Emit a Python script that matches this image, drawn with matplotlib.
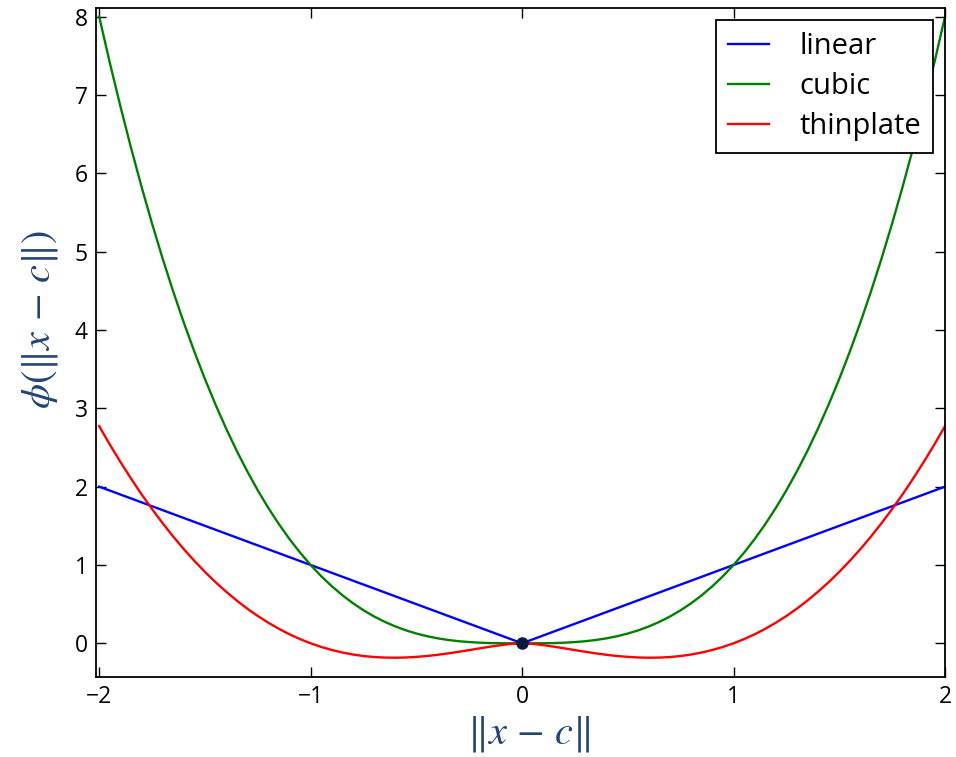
import matplotlib
matplotlib.use("Agg")
from matplotlib import pyplot as plt

# radial basis functions phi(r) (0.05 steps)
r = [-2.00, -1.95, -1.90, -1.85, -1.80, -1.75, -1.70, -1.65, -1.60, -1.55,
     -1.50, -1.45, -1.40, -1.35, -1.30, -1.25, -1.20, -1.15, -1.10, -1.05,
     -1.00, -0.95, -0.90, -0.85, -0.80, -0.75, -0.70, -0.65, -0.60, -0.55,
     -0.50, -0.45, -0.40, -0.35, -0.30, -0.25, -0.20, -0.15, -0.10, -0.05,
     0.00,
     0.05, 0.10, 0.15, 0.20, 0.25, 0.30, 0.35, 0.40, 0.45, 0.50,
     0.55, 0.60, 0.65, 0.70, 0.75, 0.80, 0.85, 0.90, 0.95, 1.00,
     1.05, 1.10, 1.15, 1.20, 1.25, 1.30, 1.35, 1.40, 1.45, 1.50,
     1.55, 1.60, 1.65, 1.70, 1.75, 1.80, 1.85, 1.90, 1.95, 2.00]

cubic = [8.0, 7.415, 6.859, 6.332, 5.832, 5.359, 4.913, 4.492, 4.096, 3.724,
         3.375, 3.049, 2.744, 2.460, 2.197, 1.953, 1.728, 1.521, 1.331, 1.158,
         1.0, 0.857, 0.729, 0.614, 0.512, 0.422, 0.343, 0.275, 0.216, 0.166,
         0.125, 0.091, 0.064, 0.043, 0.027, 0.016, 0.008, 0.003, 0.001, 0.000,
         0.0,
         0.000, 0.001, 0.003, 0.008, 0.016, 0.027, 0.043, 0.064, 0.091, 0.125,
         0.166, 0.216, 0.275, 0.343, 0.422, 0.512, 0.614, 0.729, 0.857, 1.0,
         1.158, 1.331, 1.521, 1.728, 1.953, 2.197, 2.460, 2.744, 3.049, 3.375,
         3.724, 4.096, 4.492, 4.913, 5.359, 5.832, 6.332, 6.859, 7.415, 8.0]

thinplate = [2.773, 2.539, 2.317, 2.106, 1.904, 1.714, 1.534, 1.363, 1.203, 1.053,
             0.912, 0.781, 0.660, 0.547, 0.443, 0.349, 0.263, 0.185, 0.115, 0.054,
             0.0, -0.046, -0.085, -0.117, -0.143, -0.162, -0.175, -0.182, -0.184, -0.181,
             -0.173, -0.162, -0.147, -0.129, -0.108, -0.087, -0.064, -0.043, -0.023, -0.007,
             0.0,
             -0.007, -0.023, -0.043, -0.064, -0.087, -0.108, -0.129, -0.147, -0.162, -0.173,
             -0.181, -0.184, -0.182, -0.175, -0.162, -0.143, -0.117, -0.085, -0.046, 0.0,
             0.054, 0.115, 0.185, 0.263, 0.349, 0.443, 0.547, 0.660, 0.781, 0.912,
             1.053, 1.203, 1.363, 1.534, 1.714, 1.904, 2.106, 2.317, 2.539, 2.773]

# linear is straight, three points are enough
linear_r = [-2.0, 0.0, 2.0]
linear = [2.0, 0.0, 2.0]

center = [0.0]
center_val = [0.0]

plt.rcParams['font.family'] = ['Open Sans', 'DejaVu Sans']
plt.rcParams['mathtext.fontset'] = 'stix'

label_color = '#22427A'

fig = plt.figure(figsize=(9.56, 7.57), dpi=100)
ax = fig.add_axes([96 / 956, 1 - 677 / 757, 849 / 956, 669 / 757])

ax.plot(linear_r, linear, color='b', lw=1.7, label='linear')
ax.plot(r, cubic, color='g', lw=1.7, label='cubic')
ax.plot(r, thinplate, color='r', lw=1.7, label='thinplate')
ax.plot(center, center_val, 'o', color='#0B1A3F', ms=8, zorder=5)

ax.set_xlim(-2.015, 2.0)
ax.set_ylim(-0.43, 8.11)
ax.set_xticks([-2, -1, 0, 1, 2])
ax.set_xticklabels(['\u22122', '\u22121', '0', '1', '2'])
ax.set_yticks(range(0, 9))

ax.tick_params(direction='in', top=True, right=True, length=7, width=1,
               labelsize=16.5, pad=6)
for s in ax.spines.values():
    s.set_linewidth(1.3)

ax.set_xlabel(r'$\Vert x\,-\,c\Vert$', fontsize=29, color=label_color)
ax.set_ylabel(r'$\phi(\Vert x\,-\,c\Vert)$', fontsize=29, color=label_color)
ax.xaxis.set_label_coords(0.51, -0.055)
ax.yaxis.set_label_coords(-0.042, 0.535)

leg = ax.legend(loc='upper right', fontsize=21, fancybox=False, framealpha=1,
                edgecolor='black', handlelength=1.4, handletextpad=1.05,
                borderaxespad=0.42, borderpad=0.4, labelspacing=0.38)
leg.get_frame().set_linewidth(1.3)

plt.savefig('out.png', dpi=100)
